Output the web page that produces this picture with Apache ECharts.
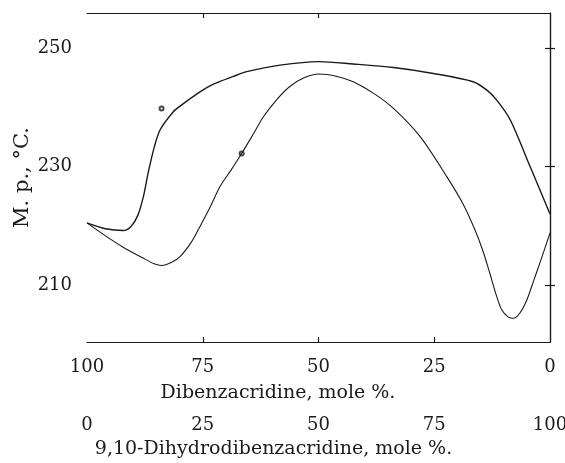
<!DOCTYPE html>
<html>
<head>
<meta charset="utf-8">
<script src="https://cdn.jsdelivr.net/npm/echarts@6/dist/echarts.min.js"></script>
<style>
  html, body { margin: 0; padding: 0; background: #fff; }
  #chart { width: 565px; height: 463px; }
</style>
</head>
<body>
<div id="chart"></div>
<script>
// x = dibenzacridine mole %, y = m.p. in °C
const upperCurve = [
  [100, 220.5], [96, 219.5], [92.2, 219.2], [90.5, 219.9], [89, 221.8], [87.8, 225],
  [86.8, 228.9], [85.5, 233.2], [84.2, 236.2], [81.4, 239.2], [79.9, 240.2], [75.6, 242.6],
  [72.7, 243.9], [68.4, 245.2], [65.5, 246], [58.3, 247.1], [50, 247.7], [42.5, 247.3],
  [33.8, 246.7], [25.2, 245.7], [16.6, 244.3], [13.5, 242.8], [11.5, 241.2], [8.6, 237.9],
  [4.3, 230], [0, 222]
]
const lowerCurve = [
  [100, 220.5], [96, 218.3], [92.2, 216.4], [88, 214.6], [85.5, 213.6], [83.9, 213.3],
  [81.8, 213.8], [79.9, 214.8], [77.5, 217.2], [75.6, 219.9], [73.5, 223], [71.3, 226.6],
  [68.9, 229.4], [66.6, 232.2], [64, 235.6], [61.9, 238.4], [59, 241.3], [56.2, 243.5],
  [53, 245], [50, 245.6], [46, 245.2], [42.5, 244.3], [38, 242.3], [33.8, 239.8],
  [28, 235], [22.3, 228.3], [19, 224], [16.2, 219.3], [14.5, 215.8], [13, 212],
  [11.6, 208.3], [10.4, 205.8], [9, 204.6], [7.9, 204.4], [6.5, 205.3], [5, 207.5],
  [3.5, 210.8], [2.2, 213.7], [0, 218.8]
]
const openPoints = [[83.9, 239.8], [66.6, 232.2]]

const dibenzTicks = [100, 75, 50, 25, 0]
const dihydroTicks = [0, 25, 50, 75, 100]
const tempTicks = [210, 230, 250]

const FONT = 'DejaVu Serif'
const INK = '#1a1a1a'

function buildOption() {
  const lineStyle = { color: INK, width: 1.2 }
  const labelStyle = { fontFamily: FONT, fontSize: 18, color: INK }
  const nameStyle = { fontFamily: FONT, fontSize: 19, color: INK }

  return {
    animation: false,
    backgroundColor: '#fff',
    grid: { left: 87, right: 15, top: 13, bottom: 121, outerBoundsMode: 'none' },
    xAxis: [
      {
        type: 'value', min: 0, max: 100, inverse: true, position: 'bottom',
        axisLine: { lineStyle },
        axisTick: { inside: true, length: 5, lineStyle, customValues: [75, 50, 25] },
        axisLabel: { ...labelStyle, margin: 16, customValues: dibenzTicks },
        splitLine: { show: false },
        name: 'Dibenzacridine, mole %.',
        nameLocation: 'middle', nameGap: 42,
        nameTextStyle: { ...nameStyle, padding: [0, 81, 0, 0] }
      },
      {
        type: 'value', min: 0, max: 100, inverse: true, position: 'top',
        axisLine: { lineStyle },
        axisTick: { inside: true, length: 5, lineStyle, customValues: [75, 50] },
        axisLabel: { show: false },
        splitLine: { show: false }
      },
      {
        type: 'value', min: 0, max: 100, position: 'bottom', offset: 59,
        axisLine: { show: false },
        axisTick: { show: false },
        axisLabel: { ...labelStyle, margin: 15, customValues: dihydroTicks },
        splitLine: { show: false },
        name: '9,10-Dihydrodibenzacridine, mole %.',
        nameLocation: 'middle', nameGap: 39,
        nameTextStyle: { ...nameStyle, padding: [0, 90, 0, 0] }
      }
    ],
    yAxis: [
      {
        type: 'value', min: 200.4, max: 255.9, position: 'left',
        axisLine: { show: true, lineStyle },
        axisTick: { show: true, inside: true, length: 5, lineStyle, customValues: tempTicks },
        axisLabel: { ...labelStyle, margin: 15, customValues: tempTicks },
        splitLine: { show: false },
        name: 'M. p., °C.',
        nameLocation: 'middle', nameGap: 54, nameMoveOverlap: false,
        nameTextStyle: { ...nameStyle, fontSize: 21 }
      },
      {
        type: 'value', min: 200.4, max: 255.9, position: 'right',
        axisLine: { show: true, lineStyle },
        axisTick: { show: true, inside: true, length: 5, lineStyle, customValues: tempTicks },
        axisLabel: { show: false },
        splitLine: { show: false }
      }
    ],
    series: [
      {
        type: 'line', name: 'upper', xAxisIndex: 0, yAxisIndex: 0,
        data: upperCurve, smooth: 0.3, showSymbol: false,
        lineStyle: { color: INK, width: 1.4 }
      },
      {
        type: 'line', name: 'lower', xAxisIndex: 0, yAxisIndex: 0,
        data: lowerCurve, smooth: 0.3, showSymbol: false,
        lineStyle: { color: INK, width: 1.1 }
      },
      {
        type: 'scatter', name: 'points', xAxisIndex: 0, yAxisIndex: 0,
        data: openPoints, symbol: 'emptyCircle', symbolSize: 4,
        itemStyle: { color: INK, borderColor: INK, borderWidth: 1 }
      }
    ]
  }
}

const chart = echarts.init(document.getElementById('chart'), null, { renderer: 'canvas' })
chart.setOption(buildOption())
window.addEventListener('resize', () => chart.resize())
</script>
</body>
</html>
